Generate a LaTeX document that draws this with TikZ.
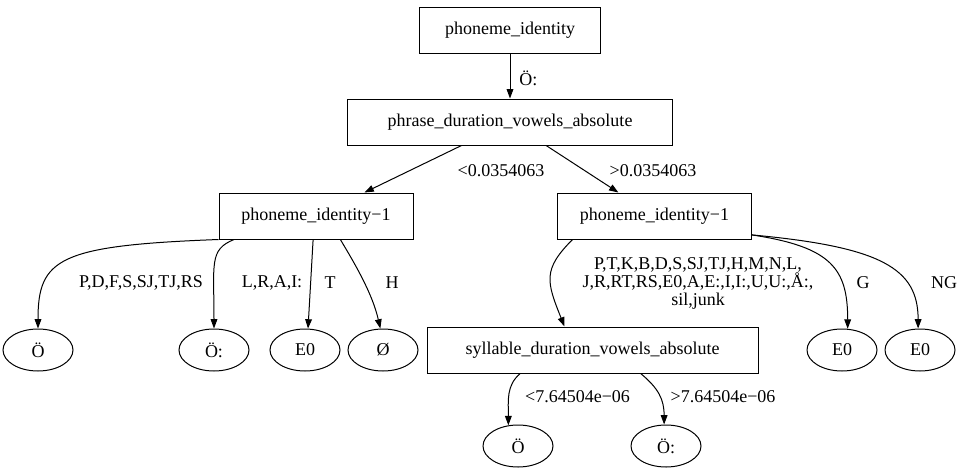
\documentclass[tikz,border=0pt]{standalone}
\usepackage{fontspec}
\setmainfont{Liberation Serif}
\usetikzlibrary{arrows.meta,shapes.geometric}

\begin{document}
\begin{tikzpicture}[x=0.75pt,y=-0.75pt,>={Triangle[length=7pt,width=5pt]},
  font=\fontsize{13.5}{13.75}\selectfont,
  qbox/.style={draw,line width=0.75pt,minimum height=34.5pt,inner sep=0pt},
  leaf/.style={draw,ellipse,line width=0.75pt,minimum width=52.5pt,minimum height=31.5pt,inner sep=0pt},
  branch/.style={->,line width=0.75pt},
  lbl/.style={inner sep=0pt,align=center}]
\useasboundingbox (0,0) rectangle (960,468);
% questions
\node[qbox,minimum width=135.75pt] (pid) at (510,30) {phoneme\_identity};
\node[qbox,minimum width=243.75pt] (pdur) at (510,122) {phrase\_duration\_vowels\_absolute};
\node[qbox,minimum width=145.5pt] (pidL) at (316,216) {phoneme\_identity−1};
\node[qbox,minimum width=145pt] (pidR) at (654.5,216) {phoneme\_identity−1};
\node[qbox,minimum width=248.25pt] (sdur) at (592.5,350) {syllable\_duration\_vowels\_absolute};
% leaves
\node[leaf] (lfO) at (38,350) {Ö};
\node[leaf] (lfOc) at (214,350) {Ö:};
\node[leaf] (lfE) at (305,350) {E0};
\node[leaf] (lfOs) at (383,350) {Ø};
\node[leaf] (lfEg) at (842,350) {E0};
\node[leaf] (lfEng) at (920,350) {E0};
\node[leaf] (lfBo) at (518,446) {Ö};
\node[leaf] (lfBoc) at (666,446) {Ö:};
% branches
\draw[branch] (pid) -- (pdur);
\draw[branch] (pdur) -- (pidL);
\draw[branch] (pdur) -- (pidR);
\draw[branch] (pidL.south west) .. controls +(-160,6) and +(0,-70) .. (lfO.north);
\draw[branch] (pidL.196) .. controls +(-25,10) and +(0,-65) .. (lfOc.north);
\draw[branch] (pidL.263) -- (lfE.82);
\draw[branch] (pidL.316) .. controls +(15,25) and +(-8,-35) .. (lfOs.97);
\draw[branch] (pidR.196) .. controls +(-30,30) and +(-18,-45) .. (sdur.140);
\draw[branch] (pidR.349) .. controls +(80,12) and +(0,-60) .. (lfEg.75);
\draw[branch] (pidR.349) .. controls +(130,12) and +(0,-60) .. (lfEng.95);
\draw[branch] (sdur.198) .. controls +(-14,12) and +(0,-25) .. (lfBo.115);
\draw[branch] (sdur.334) .. controls +(18,15) and +(0,-25) .. (lfBoc.95);
% branch labels
\node[lbl,anchor=west] (tOc) at (519,78) {Ö:};
\node[lbl] (tLo) at (501,171) {<0.0354063};
\node[lbl] (tHi) at (653,171) {>0.0354063};
\node[lbl] (tPD) at (141,283) {P,D,F,S,SJ,TJ,RS};
\node[lbl] (tLR) at (272,283) {L,R,A,I:};
\node[lbl] (tT) at (330,283) {T};
\node[lbl] (tH) at (392,283) {H};
\node[lbl] (tRest) at (698,283.5) {P,T,K,B,D,S,SJ,TJ,H,M,N,L,\\J,R,RT,RS,E0,A,E:,I,I:,U,U:,Å:,\\sil,junk};
\node[lbl] (tG) at (863,283) {G};
\node[lbl] (tNG) at (944,283) {NG};
\node[lbl] (tSlo) at (577.5,397) {<7.64504e−06};
\node[lbl] (tShi) at (723,397) {>7.64504e−06};
\end{tikzpicture}
\end{document}
